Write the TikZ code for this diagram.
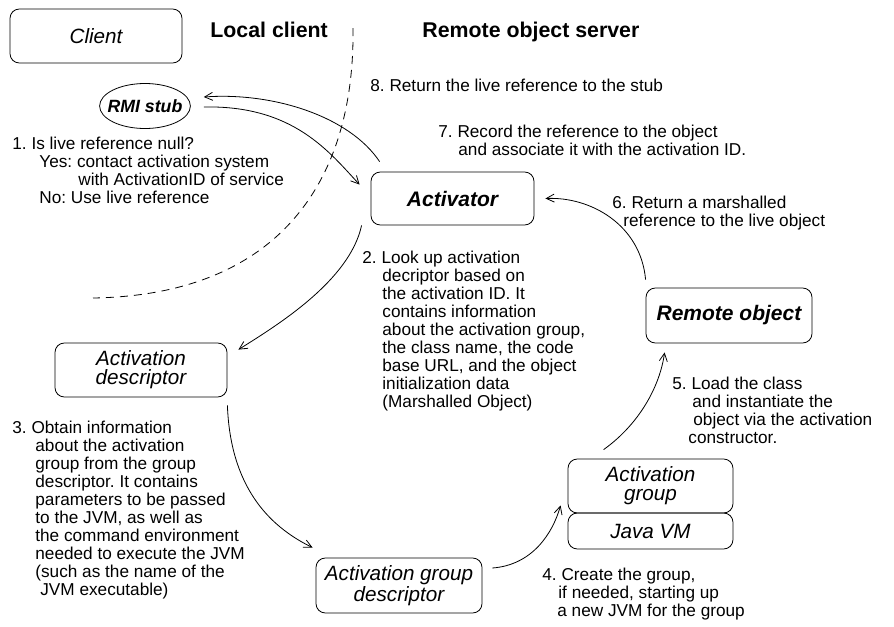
\documentclass[tikz,border=0pt]{standalone}
\usepackage{fontspec}
\setmainfont{Liberation Sans}
\usetikzlibrary{arrows.meta,shapes.geometric}
\frenchspacing

\newlength\upx
\setlength\upx{0.75pt}

\begin{document}
\begin{tikzpicture}[x=0.75pt, y=-0.75pt, line width=0.6pt,
        every node/.style={inner sep=0pt},
        caixa/.style={draw, rounded corners=7pt, align=center,
            font=\fontsize{15.5}{14.2}\selectfont\itshape},
        rotulo/.style={anchor=north west, align=left,
            font=\fontsize{12.9}{13.5}\selectfont},
        seta/.style={-{Straight Barb[length=6pt,width=6pt]}}]

        \useasboundingbox (0,0) rectangle (894,626);
        \def\rec#1{\hspace*{#1\upx}}

        % Títulos dos dois lados
        \node[anchor=north west, font=\fontsize{16}{19}\selectfont\bfseries] (tloc) at (210,22) {Local client};
        \node[anchor=north west, font=\fontsize{16}{19}\selectfont\bfseries] (trem) at (422,22) {Remote object server};

        % Fronteira cliente / servidor
        \draw[dash pattern=on 6pt off 4.5pt] (353,28) .. controls (355,180) and (280,295) .. (93,298);

        % Caixas
        \node[caixa, minimum width=129pt, minimum height=40.5pt] (client) at (96,36) {Client};
        \node[draw, ellipse, inner xsep=-4pt, inner ysep=5pt, minimum width=67.5pt, minimum height=33.75pt,
            font=\fontsize{13.3}{15}\selectfont\bfseries\itshape] (stub) at (145,106) {RMI stub};
        \node[caixa, minimum width=122.25pt, minimum height=39.75pt,
            font=\fontsize{15.75}{13}\selectfont\bfseries\itshape] (act) at (452.5,198.5) {Activator};
        \node[caixa, minimum width=124.5pt, minimum height=41.25pt,
            font=\fontsize{15.75}{13}\selectfont\bfseries\itshape] (remote) at (729,315.5) {Remote object};
        \node[caixa, minimum width=129pt, minimum height=40.5pt] (desc) at (141,370) {Activation\\descriptor};
        \node[caixa, minimum width=124.5pt, minimum height=41.25pt] (agd) at (399,585.5) {Activation group\\descriptor};
        \node[caixa, minimum width=123.75pt, minimum height=40.5pt] (grp) at (650.5,486) {Activation\\group};
        \node[caixa, minimum width=123.75pt, minimum height=27pt] (jvm) at (650.5,531) {Java VM};

        % Setas do ciclo de ativação
        \draw[seta] ([shift={(13,1)}]stub.east) .. controls +(90,-2) and +(-30,-32) .. ([shift={(-11,13)}]act.north west);
        \draw[seta] ([shift={(9,-10)}]act.north west) .. controls +(-30,-45) and +(70,-5) .. ([shift={(13,-9)}]stub.east);
        \draw[seta] ([shift={(-9,0)}]act.south west) .. controls +(-12,55) and +(40,-25) .. ([shift={(11,7)}]desc.north east);
        \draw[seta] ([shift={(0,8)}]desc.south east) .. controls +(3,80) and +(-45,-22) .. ([shift={(-3,-10)}]agd.north west);
        \draw[seta] ([shift={(10,-17.5)}]agd.east) .. controls +(40,-3) and +(-8,28) .. ([shift={(-7,-8)}]grp.south west);
        \draw[seta] ([shift={(36,-9)}]grp.north west) .. controls +(35,-25) and +(-5,35) .. ([shift={(19,9)}]remote.south west);
        \draw[seta] ([shift={(0,-8)}]remote.north west) .. controls +(-5,-55) and +(45,-2) .. ([shift={(11,0)}]act.east);

        % Passos numerados
        \node[rotulo] (p1) at (12,137) {1. Is live reference null?\\\rec{27}Yes: contact activation system\\\rec{66}with ActivationID of service\\\rec{27}No: Use live reference};
        \node[rotulo] (p2) at (362,251) {2. Look up activation\\\rec{20}decriptor based on\\\rec{20}the activation ID. It\\\rec{20}contains information\\\rec{20}about the activation group,\\\rec{20}the class name, the code\\\rec{20}base URL, and the object\\\rec{20}initialization data\\\rec{20}(Marshalled Object)};
        \node[rotulo] (p3) at (12,421) {3. Obtain information\\\rec{23}about the activation\\\rec{23}group from the group\\\rec{23}descriptor. It contains\\\rec{23}parameters to be passed\\\rec{23}to the JVM, as well as\\\rec{23}the command environment\\\rec{23}needed to execute the JVM\\\rec{23}(such as the name of the\\\rec{28}JVM executable)};
        \node[rotulo] (p4) at (542,568) {4. Create the group,\\\rec{16}if needed, starting up\\\rec{15}a new JVM for the group};
        \node[rotulo] (p5) at (672,377) {5. Load the class\\\rec{20}and instantiate the\\\rec{21}object via the activation\\\rec{16}constructor.};
        \node[rotulo] (p6) at (612,196) {6. Return a marshalled\\\rec{11}reference to the live object};
        \node[rotulo] (p7) at (438,125) {7. Record the reference to the object\\\rec{20}and associate it with the activation ID.};
        \node[rotulo] (p8) at (370,79) {8. Return the live reference to the stub};
\end{tikzpicture}
\end{document}
